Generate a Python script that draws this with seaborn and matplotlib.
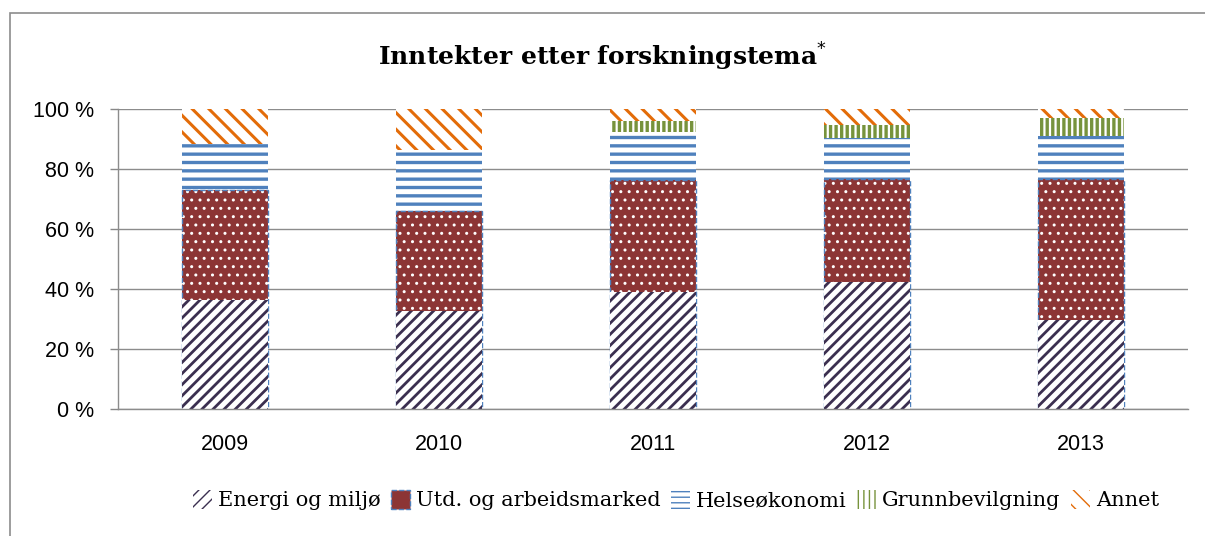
import matplotlib.pyplot as plt
import pandas as pd
import seaborn as sns
from matplotlib.patches import Patch, Rectangle

# data (share of income in %, per year)
aar = ['2009', '2010', '2011', '2012', '2013']
energi = [36.3, 32.7, 38.9, 42.4, 29.7]
utd = [36.5, 33.3, 37.4, 34.3, 47.0]
helse = [15.4, 20.3, 16.1, 13.5, 14.1]
grunn = [0.0, 0.0, 3.4, 4.5, 6.1]
annet = [11.8, 13.7, 4.2, 5.3, 3.1]

navn = ['Energi og miljø', 'Utd. og arbeidsmarked', 'Helseøkonomi',
        'Grunnbevilgning', 'Annet']

df = pd.DataFrame({'aar': aar, 'energi': energi, 'utd': utd, 'helse': helse,
                   'grunn': grunn, 'annet': annet})
df['c1'] = df['energi']
df['c2'] = df['c1'] + df['utd']
df['c3'] = df['c2'] + df['helse']
df['c4'] = df['c3'] + df['grunn']
df['c5'] = df['c4'] + df['annet']

sns.set_style('white')
plt.rcParams['font.family'] = ['Liberation Sans', 'DejaVu Sans']
plt.rcParams['text.color'] = 'black'
plt.rcParams['xtick.labelcolor'] = 'black'
plt.rcParams['ytick.labelcolor'] = 'black'
serif = ['DejaVu Serif', 'Liberation Serif']

fig = plt.figure(figsize=(12.05, 5.36), dpi=100)
ax = fig.add_axes([0.098, 0.237, 0.888, 0.56])

lilla = '#3B2F50'
rod = '#8C3535'
bla = '#4F81BD'
gronn = '#77933C'
oransje = '#E36C09'

# stacked bars drawn as cumulative layers, from the top down
lag = [
    ('c5', 'white', oransje, '\\\\', 2.2),
    ('c4', 'white', gronn, '|||', 2.4),
    ('c3', 'white', bla, '--', 2.4),
]
for kol, fc, ec, ht, lw in lag:
    with plt.rc_context({'hatch.linewidth': lw}):
        sns.barplot(data=df, x='aar', y=kol, color=fc, edgecolor=ec, hatch=ht,
                    linewidth=0, width=0.4, saturation=1, ax=ax)

with plt.rc_context({'hatch.linewidth': 1.0}):
    sns.barplot(data=df, x='aar', y='c2', color=rod, edgecolor='white', hatch='..',
                linewidth=0, width=0.4, saturation=1, ax=ax)
sns.barplot(data=df, x='aar', y='c2', fill=False, color=bla, linestyle='--',
            linewidth=1, width=0.4, saturation=1, ax=ax)
with plt.rc_context({'hatch.linewidth': 2.0}):
    sns.barplot(data=df, x='aar', y='c1', color='white', edgecolor=lilla, hatch='///',
                linewidth=0, width=0.4, saturation=1, ax=ax)

ax.set_xlim(-0.5, 4.5)
ax.set_ylim(0, 100)
ax.set_yticks(range(0, 101, 20))
ax.set_yticklabels([f'{v} %' for v in range(0, 101, 20)], fontsize=15.5)
ax.tick_params(axis='x', labelsize=15.5, length=0, pad=18)
ax.set_xticks([-0.5, 0.5, 1.5, 2.5, 3.5, 4.5], minor=True)
ax.tick_params(axis='x', which='minor', length=6, color='#888888', width=1)
ax.tick_params(axis='y', length=6, color='#888888', width=1, pad=11, left=True)
ax.set_xlabel('')
ax.set_ylabel('')
ax.yaxis.grid(True, color='#8c8c8c', linewidth=1)
ax.set_axisbelow(True)
for s in ['top', 'right']:
    ax.spines[s].set_visible(False)
for s in ['left', 'bottom']:
    ax.spines[s].set_color('#8c8c8c')
    ax.spines[s].set_linewidth(1)

fig.text(0.5, 0.893, 'Inntekter etter forskningstema$^{*}$', ha='center', va='center',
         fontsize=18, fontweight='bold', family=serif)

with plt.rc_context({'hatch.linewidth': 1.6}):
    handles = [
        Patch(facecolor='white', edgecolor=lilla, hatch='///', linewidth=0),
        Patch(facecolor=rod, edgecolor=bla, hatch='', linewidth=1, linestyle='--'),
        Patch(facecolor='white', edgecolor=bla, hatch='---', linewidth=0),
        Patch(facecolor='white', edgecolor=gronn, hatch='|||', linewidth=0),
        Patch(facecolor='white', edgecolor=oransje, hatch='\\\\', linewidth=0),
    ]
fig.legend(handles, navn, loc='center', bbox_to_anchor=(0.561, 0.067), ncol=5,
           frameon=False, handlelength=0.9, handleheight=1.0, handletextpad=0.3,
           columnspacing=0.5, prop={'family': serif, 'size': 15})

# chart frame: left and top edges visible, the rest falls outside the picture
fig.patches.append(Rectangle((0.0083, -0.05), 1.1, 0.9757 + 0.05, transform=fig.transFigure,
                             fill=False, edgecolor='#8c8c8c', linewidth=1.2))

fig.savefig('out.png', dpi=100)
